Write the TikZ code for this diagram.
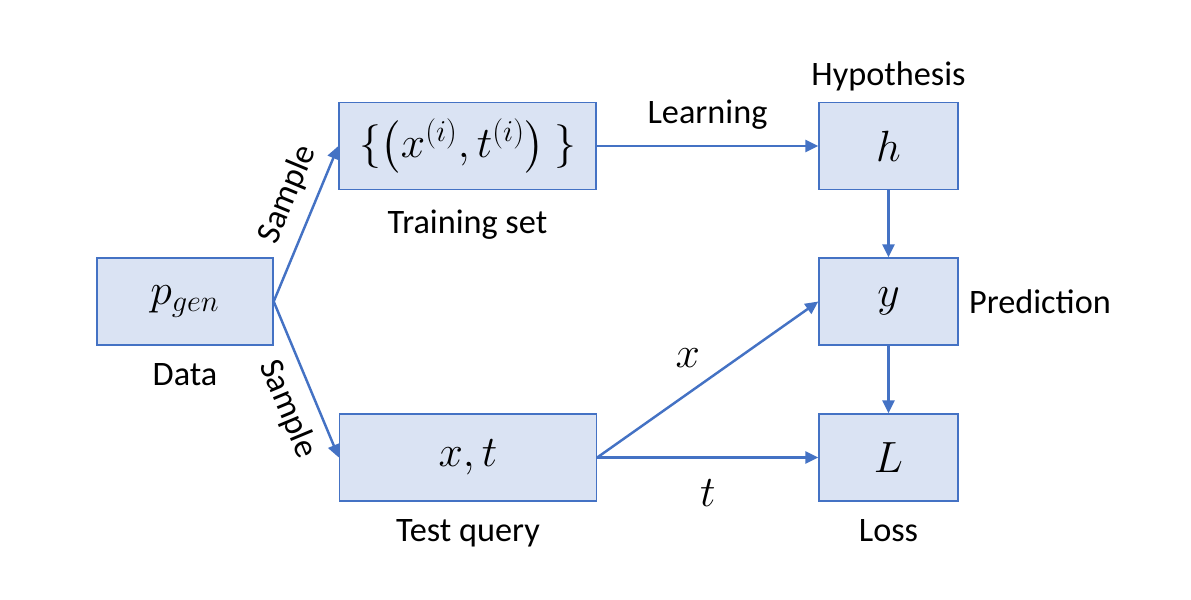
\documentclass[tikz,border=0pt]{standalone}
\usepackage{amsmath}
\usepackage{fontspec}
\setmainfont{Carlito}
\usetikzlibrary{arrows.meta}
\usetikzlibrary{positioning}
\definecolor{boxfill}{HTML}{DAE3F3}
\definecolor{boxline}{HTML}{4472C4}
\tikzset{blk/.style = {draw = boxline, fill = boxfill, line width = 0.8pt, minimum width = 2.78cm, minimum height = 1.74cm, inner sep = 0, font = \fontsize{23}{27}\selectfont}}
\tikzset{wide/.style = {blk, minimum width = 5.14cm}}
\tikzset{lbl/.style = {inner sep = 0}}
\tikzset{mlbl/.style = {inner sep = 0, font = \fontsize{23}{27}\selectfont}}
\tikzset{flow/.style = {draw = boxline, line width = 1.4pt, -{Triangle[length = 0.26cm, width = 0.24cm]}}}

\begin{document}
\begin{tikzpicture}[font = \fontsize{19.5}{23}\selectfont]
    \useasboundingbox (0, 0) rectangle (23.82, -11.98);

    \node [blk, minimum width = 3.52cm] (pgen) at (3.70, -6.03) {$p_{gen}$};
    \node [wide] (train) at (9.35, -2.92) {$\{\bigl(x^{(i)}, t^{(i)}\bigr)\ \}$};
    \node [wide] (test) at (9.36, -9.15) {$x, t$};
    \node [blk] (hyp) at (17.77, -2.92) {$h$};
    \node [blk] (pred) at (17.77, -6.03) {$y$};
    \node [blk] (loss) at (17.77, -9.15) {$L$};

    \node [lbl, below = 0.34cm of pgen] (data) {Data};
    \node [lbl, below = 0.38cm of train] (trainlbl) {Training set};
    \node [lbl, below = 0.34cm of test] (testlbl) {Test query};
    \node [lbl, above = 0.2cm of hyp] (hyplbl) {Hypothesis};
    \node [lbl, right = 0.2cm of pred] (predlbl) {Prediction};
    \node [lbl, below = 0.34cm of loss] (losslbl) {Loss};

    \draw [flow] (pgen.east) -- node [lbl, sloped, above = 0.25cm, pos = 0.62] {Sample} (train.west);
    \draw [flow] (pgen.east) -- node [lbl, sloped, below = 0.25cm, pos = 0.62] {Sample} (test.west);
    \draw [flow] (train) -- node [lbl, above = 0.3cm] {Learning} (hyp);
    \draw [flow] (hyp) -- (pred);
    \draw [flow] (pred) -- (loss);
    \draw [flow] (test.east) -- node [mlbl, pos = 0.41, above = 0.5cm] {$x$} (pred.west);
    \draw [flow] (test.east) -- node [mlbl, below = 0.42cm] {$t$} (loss.west);
  \end{tikzpicture}
\end{document}
